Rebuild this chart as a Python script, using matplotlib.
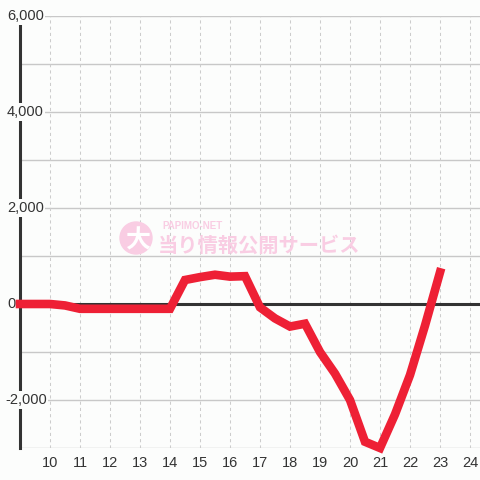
import matplotlib
matplotlib.use("Agg")
import matplotlib.pyplot as plt
from matplotlib.patches import Circle
import matplotlib.transforms as mtransforms

plt.rcParams['font.family'] = ['Liberation Sans', 'Noto Sans CJK JP', 'DejaVu Sans']

# hourly values (half hour steps)
hours = [9, 10, 10.5, 11, 11.5, 12, 12.5, 13, 13.5, 14, 14.5, 15, 15.5, 16, 16.5,
         17, 17.5, 18, 18.5, 19, 19.5, 20, 20.5, 21, 21.5, 22, 22.5, 23]
values = [0, 0, -30, -100, -100, -100, -100, -100, -100, -100, 500, 560, 610, 570, 580,
          -70, -300, -470, -410, -1000, -1450, -2000, -2870, -3000, -2300, -1480, -450, 660]
x_ticks = list(range(10, 25))
y_grid = list(range(-3000, 6001, 1000))
y_labels = [-2000, 0, 2000, 4000, 6000]

bg = '#fcfdfc'
fig = plt.figure(figsize=(4.8, 4.8), dpi=100)
fig.patch.set_facecolor(bg)
ax = fig.add_axes([20/480, 32/480, 460/480, 432/480])
ax.set_facecolor(bg)
ax.set_xlim(9, 9 + 460/30)
ax.set_ylim(-3000, 6000)

for s in ['top', 'right', 'bottom']:
    ax.spines[s].set_visible(False)
ax.spines['left'].set_color('#333333')
ax.spines['left'].set_linewidth(2.2)
ax.spines['left'].set_bounds(-3000, 5830)
ax.spines['left'].set_zorder(3)

for g in y_grid:
    ax.axhline(g, color='#c8c8c8', lw=1.0, zorder=1)
for h in x_ticks:
    ax.axvline(h, color='#cccccc', lw=0.75, ls=(0, (3, 3)), zorder=1)
ax.axhline(0, color='#333333', lw=2.2, zorder=2)

ax.set_yticks([])
ax.set_xticks(x_ticks)
ax.set_xticklabels([str(h) for h in x_ticks], fontsize=10.5, color='#333333')
ax.tick_params(axis='x', length=0, pad=6)

# y labels drawn over the spine, left aligned
trans = mtransforms.blended_transform_factory(fig.transFigure, ax.transData)
for v in y_labels:
    ax.text(5/480 if v < 0 else 7/480, v, f"{v:,}", transform=trans, ha='left', va='center',
            fontsize=10.5, color='#333333', zorder=4,
            bbox=dict(facecolor=bg, edgecolor='none', pad=1.2))

# watermark
ax_w = fig.add_axes([0, 0, 1, 1], facecolor='none')
ax_w.set_xlim(0, 480)
ax_w.set_ylim(480, 0)
ax_w.axis('off')
ax_w.add_patch(Circle((136, 238), 16, color='#f9cde3', zorder=0))
ax_w.text(138, 240, '大', fontsize=18, color='white', fontweight='bold',
          ha='center', va='center', family=['Noto Sans CJK JP'])
ax_w.text(162, 226, 'PAPIMO-NET', fontsize=7, color='#f9cde3', fontweight='bold',
          ha='left', va='center')
ax_w.text(158, 245, '当り情報公開サービス', fontsize=14.6, color='#f9cde3', fontweight='bold',
          ha='left', va='center', family=['Noto Sans CJK JP'])

ax.plot(hours, values, color='#ee2035', lw=6.2, solid_joinstyle='miter',
        solid_capstyle='projecting', zorder=5, clip_on=False)

fig.savefig('out.png', dpi=100, facecolor=fig.get_facecolor())
